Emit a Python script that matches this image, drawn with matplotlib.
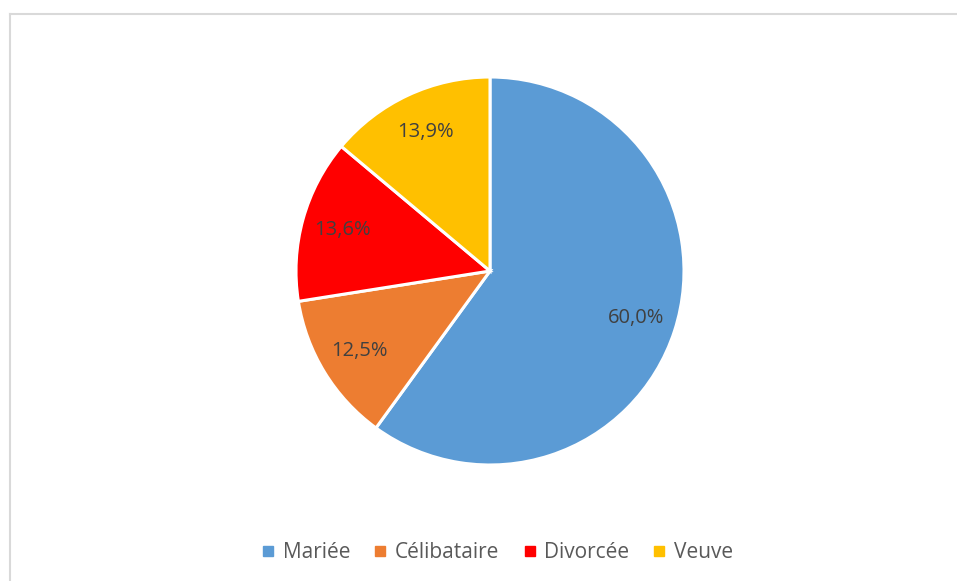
import matplotlib
matplotlib.use("Agg")
import matplotlib.pyplot as plt
from matplotlib.lines import Line2D

categories = ["Mariée", "Célibataire", "Divorcée", "Veuve"]
values = [60.0, 12.5, 13.6, 13.9]
colors = ["#5B9BD5", "#ED7D31", "#FF0000", "#FFC000"]

plt.rcParams['font.family'] = ['Open Sans', 'DejaVu Sans']

W, H = 957, 581
fig = plt.figure(figsize=(W / 100, H / 100), dpi=100)

cx, cy, r = 490, 271, 194
ax = fig.add_axes([(cx - r) / W, (H - cy - r) / H, 2 * r / W, 2 * r / H])
wedges, texts, autotexts = ax.pie(
    values, colors=colors, startangle=90, counterclock=False,
    autopct=lambda p: f"{p:.1f}%".replace(".", ","), pctdistance=0.79,
    wedgeprops=dict(edgecolor="white", linewidth=2.2),
    textprops=dict(color="#404040", fontsize=14.5),
)
ax.set_xlim(-1, 1)
ax.set_ylim(-1, 1)
ax.set_aspect("equal")
ax.axis("off")

# chart border (top and left visible)
fig.add_artist(Line2D([10 / W, 1], [1 - 14 / H, 1 - 14 / H], color="#d9d9d9", lw=1.5, transform=fig.transFigure))
fig.add_artist(Line2D([10 / W, 10 / W], [0, 1 - 14 / H], color="#d9d9d9", lw=1.5, transform=fig.transFigure))

handles = [Line2D([], [], marker="s", linestyle="none", markersize=6.5,
                  markerfacecolor=c, markeredgecolor=c) for c in colors]
fig.legend(handles, categories, loc="center", bbox_to_anchor=(497 / W, 1 - 553 / H),
           ncol=4, frameon=False, fontsize=15, labelcolor="#595959",
           handlelength=0.7, handletextpad=0.35, columnspacing=1.1)

fig.savefig("out.png", dpi=100, facecolor="white")
